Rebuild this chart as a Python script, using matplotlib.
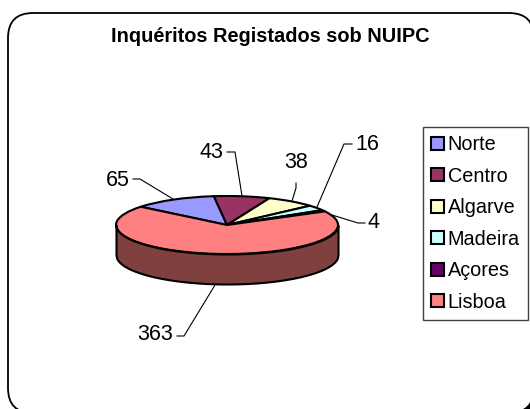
import matplotlib
matplotlib.use('Agg')
import matplotlib.pyplot as plt
from matplotlib.patches import FancyBboxPatch, Rectangle
import numpy as np

regions = ['Norte', 'Centro', 'Algarve', 'Madeira', 'Açores', 'Lisboa']
values = [65, 43, 38, 16, 4, 363]
colors = ['#9999FF', '#993366', '#FFFFCC', '#CCFFFF', '#660066', '#FF8080']
title = 'Inquéritos Registados sob NUIPC'

W, H = 530, 409
plt.rcParams['font.family'] = ['Liberation Sans', 'DejaVu Sans']
fig = plt.figure(figsize=(W / 100, H / 100), dpi=100)

# pixel axes for frame, title and leader lines
bg = fig.add_axes([0, 0, 1, 1], zorder=0)
bg.set_xlim(0, W)
bg.set_ylim(H, 0)
bg.axis('off')
bg.add_patch(Rectangle((515, 392), 20, 20, color='black', lw=0))
bg.add_patch(FancyBboxPatch((33, 38), 476, 350, boxstyle='round,pad=25,rounding_size=25',
                            fc='white', ec='black', lw=1.3))
bg.text(270, 36, title, ha='center', va='center', fontsize=14.4, fontweight='bold')

# label position, then leader line for each slice
label_xy = [(118, 180), (211, 152), (296, 163), (367, 145), (374, 223), (155, 335)]
leaders = [
    [(133, 179), (140, 179), (173, 199)],
    [(227, 152), (235, 152), (242, 196)],
    [(296, 183), (296, 188), (292, 201)],
    [(352, 144), (344, 144), (317, 207)],
    [(365, 223), (358, 223), (332, 215)],
    [(177, 336), (184, 336), (215, 285)],
]
for val, (x, y), line in zip(values, label_xy, leaders):
    bg.text(x, y, str(val), ha='center', va='center', fontsize=15.5)
    xs, ys = zip(*line)
    bg.plot(xs, ys, color='black', lw=0.8)

# squashed pie: 1 unit = 111 px across, 29 px down
rx, ry, cx, cy = 111, 29, 227, 225
ax = fig.add_axes([(cx - 1.5 * rx) / W, 1 - (cy + 2.5 * ry) / H, 3 * rx / W, 4 * ry / H], zorder=1)
wedges, _ = ax.pie(values, colors=colors, startangle=141, counterclock=False,
                   wedgeprops={'edgecolor': 'black', 'linewidth': 1.5})
ax.set_aspect('auto')
ax.set_xlim(-1.5, 1.5)
ax.set_ylim(-2.5, 1.5)
x = np.linspace(-1, 1, 300)
lower = -np.sqrt(1 - x ** 2)
ax.fill_between(x, lower, lower - 30 / ry, facecolor='#804040', edgecolor='black', linewidth=1.5)

leg = fig.legend(wedges, regions, loc='upper left', bbox_to_anchor=(423 / W, 1 - 127 / H),
                 fontsize=14.3, fancybox=False, framealpha=1, edgecolor='#404040',
                 handlelength=0.62, handleheight=0.62, handletextpad=0.2, labelspacing=0.63,
                 borderpad=0.42, borderaxespad=0)
leg.set_zorder(2)
leg.get_frame().set_linewidth(1.0)

fig.savefig('out.png', dpi=100)
